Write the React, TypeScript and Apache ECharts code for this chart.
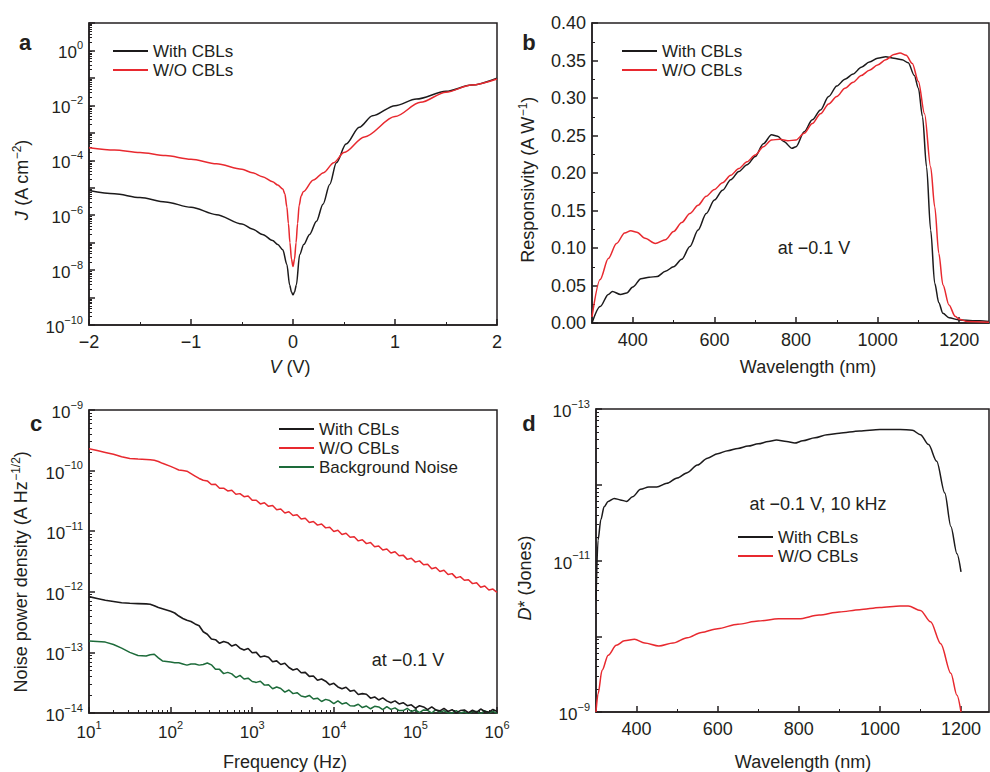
import React, { useEffect, useRef } from "react";
import * as echarts from "echarts";

const FONT = "'Liberation Sans', Arial, Helvetica, sans-serif";
const INK = "#231f20";
const BLACK = "#1c1a1b";
const RED = "#e8292f";
const GREEN = "#1d6b3a";

// ---------- a: J–V (log10 of J in A cm^-2) ----------
const jvWithVoltage = [-2, -1.75, -1.5, -1.25, -1, -0.75, -0.5, -0.4, -0.3, -0.2, -0.15, -0.1, -0.06, -0.033, -0.015, 0, 0.015, 0.033, 0.065, 0.105, 0.163, 0.23, 0.294, 0.36, 0.425, 0.52, 0.65, 0.78, 1.0, 1.21, 1.5, 1.75, 2];
const jvWithLog10J = [-5.1, -5.22, -5.36, -5.52, -5.71, -5.98, -6.32, -6.5, -6.7, -6.92, -7.07, -7.26, -7.8, -8.54, -8.8, -8.9, -8.8, -8.54, -7.44, -7.07, -6.7, -6.22, -5.6, -4.88, -4.09, -3.41, -2.8, -2.38, -2.01, -1.77, -1.49, -1.26, -1.01];
const jvWithoutVoltage = [-2, -1.75, -1.5, -1.25, -1, -0.75, -0.5, -0.4, -0.3, -0.2, -0.15, -0.1, -0.08, -0.06, -0.045, -0.03, -0.015, 0, 0.015, 0.03, 0.045, 0.06, 0.08, 0.1, 0.2, 0.3, 0.4, 0.5, 0.7, 1.0, 1.25, 1.5, 1.75, 2];
const jvWithoutLog10J = [-3.54, -3.63, -3.72, -3.83, -3.96, -4.13, -4.33, -4.45, -4.6, -4.78, -4.9, -5.05, -5.22, -5.7, -6.3, -7.0, -7.6, -7.87, -7.6, -7.0, -6.3, -5.65, -5.3, -5.15, -4.72, -4.45, -4.09, -3.72, -3.15, -2.41, -1.89, -1.52, -1.26, -1.04];

// ---------- b: responsivity (A W^-1) ----------
const respWithWavelength = [300, 320, 340, 350, 370, 385, 400, 420, 440, 460, 480, 500, 520, 540, 560, 580, 600, 620, 640, 660, 680, 700, 720, 740, 755, 770, 790, 800, 820, 840, 860, 880, 900, 920, 940, 960, 980, 1000, 1020, 1040, 1060, 1075, 1090, 1100, 1110, 1120, 1130, 1140, 1150, 1160, 1175, 1200, 1250, 1273];
const respWithValues = [0.0, 0.022, 0.038, 0.042, 0.038, 0.04, 0.048, 0.059, 0.061, 0.062, 0.069, 0.075, 0.085, 0.102, 0.124, 0.146, 0.164, 0.177, 0.191, 0.202, 0.211, 0.222, 0.239, 0.251, 0.249, 0.242, 0.233, 0.235, 0.255, 0.271, 0.284, 0.302, 0.316, 0.325, 0.332, 0.341, 0.348, 0.353, 0.355, 0.353, 0.351, 0.347, 0.33, 0.313, 0.275, 0.208, 0.124, 0.053, 0.027, 0.013, 0.007, 0.004, 0.003, 0.002];
const respWithoutWavelength = [300, 320, 340, 360, 380, 395, 410, 430, 455, 480, 500, 520, 540, 560, 580, 600, 620, 640, 660, 680, 700, 720, 740, 760, 780, 800, 820, 840, 860, 880, 900, 920, 940, 960, 980, 1000, 1020, 1040, 1055, 1070, 1085, 1100, 1115, 1130, 1140, 1150, 1160, 1175, 1190, 1200, 1220, 1273];
const respWithoutValues = [0.008, 0.058, 0.086, 0.106, 0.12, 0.123, 0.121, 0.113, 0.106, 0.111, 0.122, 0.134, 0.146, 0.157, 0.169, 0.178, 0.187, 0.197, 0.206, 0.215, 0.224, 0.235, 0.244, 0.245, 0.243, 0.244, 0.253, 0.266, 0.279, 0.292, 0.302, 0.313, 0.321, 0.33, 0.337, 0.344, 0.351, 0.358, 0.36, 0.357, 0.346, 0.322, 0.279, 0.208, 0.155, 0.093, 0.051, 0.024, 0.009, 0.005, 0.002, 0.001];
const wavelengthTickLabels = [400, 600, 800, 1000, 1200];
const wavelengthMinorTicks = [500, 700, 900, 1100];

// ---------- c: noise spectra (log10 of Hz, log10 of A Hz^-1/2) ----------
const freqLog10 = [1.0, 1.1, 1.2, 1.3, 1.4, 1.5, 1.6, 1.7, 1.75, 1.8, 1.85, 1.9, 2.0, 2.05, 2.1, 2.15, 2.2, 2.25, 2.3, 2.35, 2.4,
  2.45, 2.5, 2.55, 2.6, 2.65, 2.7, 2.75, 2.8, 2.85, 2.9, 2.95, 3.0, 3.05, 3.1, 3.15, 3.2, 3.25, 3.3, 3.35, 3.4, 3.45, 3.5, 3.55, 3.6, 3.65, 3.7, 3.75, 3.8, 3.85, 3.9, 3.95,
  4.0, 4.05, 4.1, 4.15, 4.2, 4.25, 4.3, 4.35, 4.4, 4.45, 4.5, 4.55, 4.6, 4.65, 4.7, 4.75, 4.8, 4.85, 4.9, 4.95,
  5.0, 5.05, 5.1, 5.15, 5.2, 5.25, 5.3, 5.35, 5.4, 5.45, 5.5, 5.55, 5.6, 5.65, 5.7, 5.75, 5.8, 5.85, 5.9, 5.95, 6.0];
const noiseWithoutLog10 = [-9.64, -9.67, -9.7, -9.73, -9.77, -9.8, -9.81, -9.815, -9.82, -9.83, -9.85, -9.88, -9.93, -9.96, -9.99, -10.0, -10.01, -10.05, -10.09, -10.13, -10.16,
  -10.17, -10.23, -10.225, -10.29, -10.29, -10.335, -10.325, -10.39, -10.38, -10.43, -10.42, -10.49, -10.49, -10.55, -10.53, -10.59, -10.575, -10.645, -10.635, -10.7, -10.68, -10.74, -10.73, -10.8, -10.785, -10.855, -10.84, -10.9, -10.88, -10.945, -10.935,
  -11.005, -10.985, -11.055, -11.035, -11.1, -11.09, -11.16, -11.14, -11.205, -11.185, -11.255, -11.245, -11.31, -11.295, -11.36, -11.34, -11.405, -11.395, -11.465, -11.445,
  -11.51, -11.49, -11.555, -11.545, -11.62, -11.6, -11.665, -11.645, -11.715, -11.7, -11.77, -11.75, -11.81, -11.8, -11.865, -11.85, -11.925, -11.905, -11.97, -11.955, -12.01];
const noiseWithLog10 = [-12.08, -12.11, -12.14, -12.16, -12.18, -12.19, -12.195, -12.2, -12.205, -12.23, -12.26, -12.28, -12.32, -12.35, -12.4, -12.44, -12.47, -12.49, -12.53, -12.56, -12.66,
  -12.7, -12.78, -12.79, -12.85, -12.82, -12.84, -12.895, -12.87, -12.93, -12.96, -12.935, -13.005, -13.0, -13.075, -13.06, -13.08, -13.155, -13.14, -13.2, -13.18, -13.25, -13.29, -13.27, -13.335, -13.33, -13.395, -13.39, -13.46, -13.44, -13.475, -13.535,
  -13.51, -13.57, -13.6, -13.575, -13.64, -13.625, -13.695, -13.68, -13.69, -13.755, -13.735, -13.785, -13.75, -13.8, -13.83, -13.8, -13.85, -13.83, -13.88, -13.865,
  -13.92, -13.88, -13.9, -13.945, -13.9, -13.95, -13.965, -13.925, -13.975, -13.945, -14.0, -13.96, -13.95, -13.995, -13.955, -13.99, -13.935, -13.975, -13.985, -13.94, -13.975];
const noiseBackgroundLog10 = [-12.81, -12.82, -12.83, -12.87, -12.93, -13.0, -13.05, -13.06, -13.04, -13.03, -13.09, -13.14, -13.16, -13.17, -13.17, -13.19, -13.21, -13.19, -13.19, -13.21, -13.2,
  -13.175, -13.205, -13.28, -13.28, -13.35, -13.33, -13.355, -13.415, -13.38, -13.44, -13.425, -13.48, -13.495, -13.475, -13.54, -13.535, -13.6, -13.57, -13.595, -13.655, -13.62, -13.68, -13.665, -13.72, -13.735, -13.71, -13.77, -13.755, -13.81, -13.775, -13.795,
  -13.845, -13.8, -13.85, -13.83, -13.88, -13.885, -13.855, -13.91, -13.885, -13.93, -13.89, -13.9, -13.945, -13.895, -13.94, -13.915, -13.96, -13.96, -13.925, -13.975,
  -13.95, -13.995, -13.95, -13.955, -14.0, -13.945, -13.99, -13.96, -14.0, -14.0, -13.96, -14.005, -13.98, -14.02, -13.97, -13.975, -14.015, -13.96, -14.0, -13.97, -14.01];

// ---------- d: detectivity (log10 of Jones) ----------
const detWithWavelength = [300, 305, 312, 320, 330, 345, 360, 375, 390, 410, 430, 450, 475, 500, 525, 550, 575, 600, 625, 650, 675, 700, 725, 745, 770, 790, 810, 840, 870, 900, 950, 1000, 1050, 1080, 1100, 1120, 1140, 1160, 1175, 1190, 1200];
const detWithLog10 = [10.48, 11.27, 11.54, 11.71, 11.78, 11.82, 11.8, 11.78, 11.84, 11.94, 11.97, 11.97, 12.02, 12.09, 12.16, 12.26, 12.35, 12.41, 12.45, 12.48, 12.51, 12.54, 12.57, 12.59, 12.57, 12.55, 12.58, 12.62, 12.66, 12.68, 12.71, 12.73, 12.73, 12.72, 12.66, 12.53, 12.31, 11.89, 11.45, 11.09, 10.85];
const detWithoutWavelength = [300, 305, 315, 330, 350, 370, 395, 420, 455, 490, 525, 560, 600, 650, 700, 750, 800, 850, 900, 950, 1000, 1050, 1070, 1100, 1125, 1150, 1175, 1190, 1200];
const detWithoutLog10 = [9.0, 9.24, 9.55, 9.75, 9.88, 9.94, 9.96, 9.91, 9.87, 9.91, 9.98, 10.05, 10.1, 10.16, 10.2, 10.23, 10.23, 10.28, 10.32, 10.35, 10.38, 10.4, 10.4, 10.34, 10.19, 9.9, 9.51, 9.22, 9.0];

const pairs = (xs: number[], ys: number[]) => xs.map((x, i) => [x, ys[i]]);

const logMinor = (from: number, to: number) => {
  const out: number[] = [];
  for (let n = from; n < to; n++) for (let k = 2; k <= 9; k++) out.push(n + Math.log10(k));
  return out;
};

const supRich = {
  b: { fontSize: 17, fontFamily: FONT, color: INK, lineHeight: 22, verticalAlign: "bottom" },
  s: { fontSize: 11, fontFamily: FONT, color: INK, lineHeight: 14, verticalAlign: "top" },
};
const minus = (v: number) => (v < 0 ? "\u2212" + Math.abs(v) : String(v));

const axisLine = { show: true, onZero: false, lineStyle: { color: INK, width: 1.5 } };
const axisTick = { show: true, inside: true, length: 6, lineStyle: { color: INK, width: 1.5 } };
const labelBase = { color: INK, fontSize: 18, fontFamily: FONT, margin: 8 };

const mainAxis = (gridIndex: number, extra: any) => ({
  type: "value",
  gridIndex,
  axisLine,
  axisTick,
  splitLine: { show: false },
  ...extra,
  axisLabel: { ...labelBase, ...(extra.axisLabel || {}) },
});

const minorAxis = (gridIndex: number, position: string, min: number, max: number, values: number[]) => ({
  type: "value",
  gridIndex,
  position,
  min,
  max,
  axisLine: { show: false, onZero: false },
  axisLabel: { show: false },
  splitLine: { show: false },
  axisTick: { show: true, inside: true, length: 3, customValues: values, lineStyle: { color: INK, width: 1 } },
});

const txt = (x: number, y: number, text: string, extra: any = {}) => ({
  type: "text",
  x,
  y,
  rotation: extra.rotation || 0,
  silent: true,
  style: {
    text,
    fill: INK,
    fontSize: extra.fontSize || 18,
    fontFamily: FONT,
    fontWeight: extra.fontWeight || "normal",
    align: "center",
    verticalAlign: "middle",
    rich: {
      i: { fontStyle: "italic", fontSize: 18, fontFamily: FONT, fill: INK, lineHeight: 22 },
      s: { fontSize: 12, fontFamily: FONT, fill: INK, lineHeight: 14, verticalAlign: "top" },
      n: { fontSize: 18, fontFamily: FONT, fill: INK, lineHeight: 22 },
    },
  },
});

const legendBase = {
  orient: "vertical",
  icon: "rect",
  itemWidth: 35,
  itemHeight: 2,
  itemGap: 1,
  padding: 0,
  selectedMode: false,
  textStyle: { fontSize: 17, fontFamily: FONT, color: INK, lineHeight: 18 },
};

const lineSeries = (name: string, color: string, xi: number, yi: number, data: number[][], width = 1.5, smooth: any = 0.3) => ({
  type: "line",
  name,
  xAxisIndex: xi,
  yAxisIndex: yi,
  data,
  showSymbol: false,
  symbol: "none",
  smooth,
  smoothMonotone: smooth ? "x" : undefined,
  lineStyle: { color, width },
  itemStyle: { color },
  silent: true,
});

export default function App() {
  const ref = useRef<HTMLDivElement>(null);
  useEffect(() => {
    if (!ref.current) return;
    const chart = echarts.init(ref.current, undefined, { renderer: "svg" });
    const gridBox = { show: true, borderColor: INK, borderWidth: 1.5, backgroundColor: "transparent", containLabel: false };
    const option: any = {
      animation: false,
      backgroundColor: "#ffffff",
      grid: [
        { ...gridBox, left: 89, right: 493, top: 23, bottom: 447 },
        { ...gridBox, left: 592, right: 1, top: 23, bottom: 449 },
        { ...gridBox, left: 89, right: 493, top: 410, bottom: 59 },
        { ...gridBox, left: 596, right: 1, top: 409, bottom: 60 },
      ],
      xAxis: [
        // 0: a
        mainAxis(0, {
          min: -2, max: 2, interval: 1,
          minorTick: { show: true, splitNumber: 2, length: 3, lineStyle: { color: INK, width: 1 } },
          axisLabel: { formatter: (v: number) => minus(v) },
        }),
        // 1: b
        mainAxis(1, {
          min: 300, max: 1273,
          axisTick: { ...axisTick, customValues: wavelengthTickLabels },
          axisLabel: { customValues: wavelengthTickLabels, formatter: (v: number) => String(v) },
        }),
        // 2: c
        mainAxis(2, {
          min: 1, max: 6, interval: 1,
          axisLabel: { margin: 6, formatter: (v: number) => `{b|10}{s|${minus(v)}}`, rich: supRich },
        }),
        // 3: c minor
        minorAxis(2, "bottom", 1, 6, logMinor(1, 6)),
        // 4: d
        mainAxis(3, {
          min: 300, max: 1269,
          axisTick: { ...axisTick, customValues: wavelengthTickLabels },
          axisLabel: { customValues: wavelengthTickLabels, formatter: (v: number) => String(v) },
        }),
        // 5: b minor
        minorAxis(1, "bottom", 300, 1273, wavelengthMinorTicks),
        // 6: d minor
        minorAxis(3, "bottom", 300, 1269, wavelengthMinorTicks),
      ],
      yAxis: [
        // 0: a
        mainAxis(0, {
          min: -10, max: 1, interval: 1,
          axisLabel: { margin: 6, formatter: (v: number) => (Math.abs(v) % 2 === 0 ? `{b|10}{s|${minus(v)}}` : ""), rich: supRich },
        }),
        // 1: a minor
        minorAxis(0, "left", -10, 1, logMinor(-10, 1)),
        // 2: b
        mainAxis(1, {
          min: 0, max: 0.4, interval: 0.05,
          minorTick: { show: true, splitNumber: 2, length: 3, lineStyle: { color: INK, width: 1 } },
          axisLabel: { margin: 6, formatter: (v: number) => v.toFixed(2) },
        }),
        // 3: c
        mainAxis(2, {
          min: -14, max: -9, interval: 1,
          axisLabel: { margin: 6, formatter: (v: number) => `{b|10}{s|${minus(v)}}`, rich: supRich },
        }),
        // 4: c minor
        minorAxis(2, "left", -14, -9, logMinor(-14, -9)),
        // 5: d
        mainAxis(3, {
          min: 9, max: 13, interval: 1,
          axisLabel: { margin: 6, formatter: (v: number) => (v % 2 === 1 ? `{b|10}{s|\u2212${v}}` : ""), rich: supRich },
        }),
        // 6: d minor
        minorAxis(3, "left", 9, 13, logMinor(9, 13)),
      ],
      legend: [
        { ...legendBase, left: 113, top: 42, data: ["With CBLs", "W/O CBLs"] },
        { ...legendBase, left: 622, top: 42, data: ["With CBLs", "W/O CBLs"] },
        { ...legendBase, left: 279, top: 420, data: ["With CBLs", "W/O CBLs", "Background Noise"] },
        { ...legendBase, left: 738, top: 528, data: ["With CBLs", "W/O CBLs"] },
      ],
      series: [
        lineSeries("With CBLs", BLACK, 0, 0, pairs(jvWithVoltage, jvWithLog10J), 1.5, 0.3),
        lineSeries("W/O CBLs", RED, 0, 0, pairs(jvWithoutVoltage, jvWithoutLog10J), 1.5, 0.3),
        lineSeries("With CBLs", BLACK, 1, 2, pairs(respWithWavelength, respWithValues), 1.5, 0.3),
        lineSeries("W/O CBLs", RED, 1, 2, pairs(respWithoutWavelength, respWithoutValues), 1.5, 0.3),
        lineSeries("Background Noise", GREEN, 2, 3, pairs(freqLog10, noiseBackgroundLog10), 1.5, false),
        lineSeries("With CBLs", BLACK, 2, 3, pairs(freqLog10, noiseWithLog10), 1.6, false),
        lineSeries("W/O CBLs", RED, 2, 3, pairs(freqLog10, noiseWithoutLog10), 1.5, false),
        lineSeries("With CBLs", BLACK, 4, 5, pairs(detWithWavelength, detWithLog10), 1.5, 0.3),
        lineSeries("W/O CBLs", RED, 4, 5, pairs(detWithoutWavelength, detWithoutLog10), 1.5, 0.3),
      ],
      graphic: [
        txt(25, 42, "a", { fontSize: 22, fontWeight: "bold" }),
        txt(529, 42, "b", { fontSize: 22, fontWeight: "bold" }),
        txt(36, 423, "c", { fontSize: 22, fontWeight: "bold" }),
        txt(529, 423, "d", { fontSize: 22, fontWeight: "bold" }),
        txt(290, 367, "{i|V}{n| (V)}"),
        txt(808, 367, "Wavelength (nm)"),
        txt(285, 762, "Frequency (Hz)"),
        txt(803, 762, "Wavelength (nm)"),
        txt(22, 180, "{i|J}{n| (A cm}{s|\u22122}{n|)}", { rotation: Math.PI / 2 }),
        txt(528, 180, "{n|Responsivity (A W}{s|\u22121}{n|)}", { rotation: Math.PI / 2 }),
        txt(21, 572, "{n|Noise power density (A Hz}{s|\u22121/2}{n|)}", { rotation: Math.PI / 2 }),
        txt(525, 578, "{i|D}{n|* (Jones)}", { rotation: Math.PI / 2 }),
        txt(814, 248, "at \u22120.1 V"),
        txt(408, 660, "at \u22120.1 V"),
        txt(818, 504, "at \u22120.1 V, 10 kHz"),
      ],
    };
    chart.setOption(option);
    return () => chart.dispose();
  }, []);
  return (
    <div
      ref={ref}
      style={{ position: "absolute", left: 0, top: 0, width: 990, height: 772, background: "#fff" }}
    />
  );
}
